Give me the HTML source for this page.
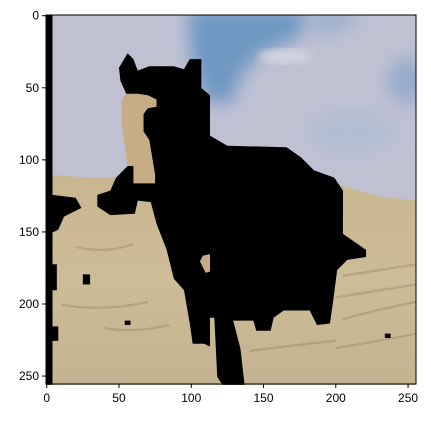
<!DOCTYPE html>
<html><head><meta charset="utf-8"><style>
body{margin:0;background:#fff;width:431px;height:418px;overflow:hidden;font-family:"Liberation Sans","DejaVu Sans",sans-serif}
</style></head><body>
<svg width="431" height="418" viewBox="0 0 431 418">
<defs>
<linearGradient id="sand" x1="0" y1="0" x2="0" y2="1">
<stop offset="0" stop-color="#c9b690"/><stop offset="0.5" stop-color="#cdbc98"/><stop offset="1" stop-color="#c4b390"/></linearGradient>
<clipPath id="clip"><rect x="-0.5" y="-0.5" width="256" height="256"/></clipPath>
<filter id="blur"><feGaussianBlur stdDeviation="6"/></filter>
<filter id="blur2"><feGaussianBlur stdDeviation="3"/></filter>
</defs>
<g id="img" transform="translate(46,15) scale(1.445) translate(0.5,0.5)" clip-path="url(#clip)">
<rect x="-0.5" y="-0.5" width="256" height="256" fill="#bfc1d3"/>
<g filter="url(#blur)">
<path d="M98,-5 L180,-5 L175,15 L150,25 L135,40 L128,60 L110,60 L100,30 Z" fill="#6f97c3"/>
<path d="M185,-5 L220,-5 L205,10 L185,15 Z" fill="#9cb0cc"/>
<ellipse cx="250" cy="45" rx="14" ry="16" fill="#94acca"/>
<ellipse cx="210" cy="80" rx="30" ry="15" fill="#b2bdd2"/>
</g>
<ellipse cx="165" cy="28" rx="18" ry="5" fill="#d2d4e0" filter="url(#blur2)"/>
<path d="M0,110 L30,112 L60,112 L80,112 L160,115 L205,118 L230,125 L256,128 L256,256 L0,256 Z" fill="url(#sand)"/>
<path d="M52,58 L56,52 L70,55 L76,58 L76,63 L70,64 L67,68 L67,80 L71,86 L75,110 L75,116 L60,116 L56,105 L52,75 Z" fill="#c6ad85"/>
<g opacity="0.35" stroke="#8a7a5e" stroke-width="1.6" fill="none">
<path d="M205,180 Q230,176 256,172"/><path d="M200,195 Q230,190 256,186"/><path d="M205,210 Q230,203 256,198"/><path d="M200,230 Q225,226 256,220"/><path d="M140,232 Q170,228 200,225"/><path d="M10,200 Q40,205 70,198"/><path d="M40,216 Q60,220 85,214"/><path d="M20,160 Q40,165 60,158"/>
</g>
<path fill="#000" d="M56,26 L50,36 L51,45 L55,54 L63,54 L70,55 L76,58 L76,63 L70,64 L67,68 L67,80 L71,86 L75,110 L75,116 L60,116 L60,104 L56,104 L48,112 L44,121 L35,124 L35,132 L44,138 L61,137 L63,128 L72,129 L76,144 L83,162 L88,182 L95,190 L99,213 L101,227 L109,227 L113,229 L113,209 L116,209 L118,250 L122,256 L137,256 L134,230 L129,211 L143,211 L145,218 L155,218 L157,209 L164,204 L182,204 L187,214 L196,213 L198,199 L201,176 L208,169 L221,167 L221,162 L205,151 L205,121 L199,112 L185,107 L176,98 L166,91 L125,90 L113,83 L113,55 L107,50 L107,30 L99,30 L95,37 L88,35 L71,35 L63,38 L60,30 Z"/>
<path d="M108,166 L113,165 L113,177 L110,178 L106,170 Z" fill="#c4ad85"/>
<rect x="-0.5" y="-0.5" width="4.5" height="256" fill="#000"/>
<path d="M4,124 L20,126 L24,133 L12,139 L8,148 L4,150 Z" fill="#000"/>
<rect x="3" y="172" width="4" height="18" fill="#000"/>
<rect x="3" y="215" width="5" height="10" fill="#000"/>
<rect x="25" y="179" width="5" height="7" fill="#000"/>
<rect x="54" y="211" width="4" height="3" fill="#000"/>
<rect x="234" y="220" width="4" height="3" fill="#000"/>
</g>
<rect x="46" y="15" width="370" height="369" fill="none" stroke="#000" stroke-width="1"/>
<g id="xt" font-size="12" fill="#000" text-anchor="middle"></g>
<g id="yt" font-size="12" fill="#000" text-anchor="end"></g>
</svg>
<script>
const xTicks=[0,50,100,150,200,250];
const yTicks=[0,50,100,150,200,250];
const sx=v=>46+(v+0.5)*370/256, sy=v=>15+(v+0.5)*369/256;
const NS='http://www.w3.org/2000/svg';
const xt=document.getElementById('xt'), yt=document.getElementById('yt');
xTicks.forEach(v=>{
 const l=document.createElementNS(NS,'line');
 
 
 l.setAttribute('x1',sx(v));l.setAttribute('x2',sx(v));l.setAttribute('y1',384);l.setAttribute('y2',388);l.setAttribute('stroke','#000');
 xt.appendChild(l);
 const t=document.createElementNS(NS,'text');
 
 
 t.setAttribute('x',sx(v));t.setAttribute('y',402);t.textContent=v;
 xt.appendChild(t);
});
yTicks.forEach(v=>{
 const l=document.createElementNS(NS,'line');
 
 
 l.setAttribute('x1',42);l.setAttribute('x2',46);l.setAttribute('y1',sy(v));l.setAttribute('y2',sy(v));l.setAttribute('stroke','#000');
 yt.appendChild(l);
 const t=document.createElementNS(NS,'text');
 
 
 t.setAttribute('x',39);t.setAttribute('y',sy(v)+4);t.textContent=v;
 yt.appendChild(t);
});
</script>
</body></html>
